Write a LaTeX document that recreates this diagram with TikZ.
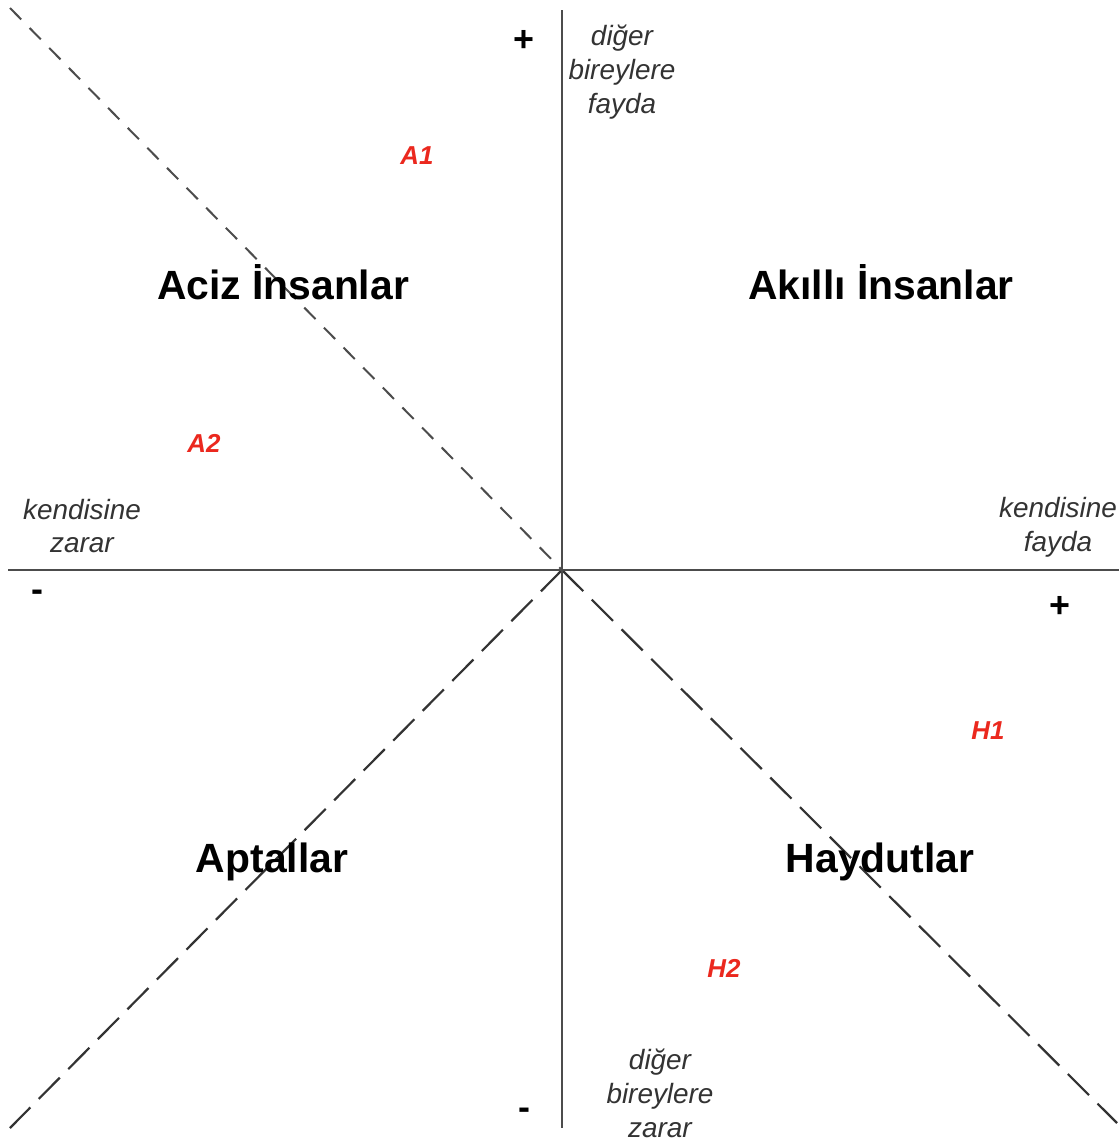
\documentclass[tikz,border=0pt]{standalone}
\usepackage{fontspec}
\setmainfont{Liberation Sans}
\begin{document}
\begin{tikzpicture}[x=1bp,y=-1bp,
  axis/.style={draw=black!70,line width=2.4bp},
  diagA/.style={draw=black!70,line width=2bp,dash pattern=on 16bp off 12bp},
  diagB/.style={draw=black!80,line width=2.2bp,dash pattern=on 30bp off 12bp},
  group/.style={font=\fontsize{41}{48}\selectfont\bfseries,text=black,inner sep=0pt},
  axlabel/.style={font=\fontsize{28}{34}\selectfont\itshape,text=black!80,align=center,inner sep=0pt},
  sign/.style={font=\fontsize{36}{40}\selectfont\bfseries,inner sep=0pt},
  pt/.style={font=\fontsize{26}{30}\selectfont\bfseries\itshape,text={rgb,255:red,235;green,40;blue,30},inner sep=0pt}
]
\useasboundingbox (0,0) rectangle (1119,1143);
\fill[white] (0,0) rectangle (1119,1143);

\coordinate (O) at (562,570);
\coordinate (top) at (562,10);
\coordinate (bot) at (562,1128);
\coordinate (left) at (8,570);
\coordinate (right) at (1119,570);
\coordinate (tl) at (10,8);
\coordinate (bl) at (10,1128);
\coordinate (br) at (1117,1123);

\draw[diagA] (tl) -- (O);
\draw[diagB] (O) -- (bl);
\draw[diagB] (O) -- (br);
\draw[axis] (top) -- (bot);
\draw[axis] (left) -- (right);

\node[group] (aciz) at (283,282) {Aciz İnsanlar};
\node[group] (akilli) at (881,282) {Akıllı İnsanlar};
\node[group] (aptal) at (272,862) {Aptallar};
\node[group] (haydut) at (880,862) {Haydutlar};

\node[axlabel] (dbf) at (622,72) {diğer\\bireylere\\fayda};
\node[axlabel] (dbz) at (660,1093) {diğer\\bireylere\\zarar};
\node[axlabel] (kz) at (82,526) {kendisine\\zarar};
\node[axlabel] (kf) at (1058,527) {kendisine\\fayda};

\node[sign] (ptop) at (524,41) {+};
\node[sign] (mbot) at (524,1114) {-};
\node[sign] (mleft) at (37,596) {-};
\node[sign] (pright) at (1060,607) {+};

\node[pt] (a1) at (417,156) {A1};
\node[pt] (a2) at (204,443) {A2};
\node[pt] (h1) at (988,731) {H1};
\node[pt] (h2) at (724,968) {H2};
\end{tikzpicture}
\end{document}
